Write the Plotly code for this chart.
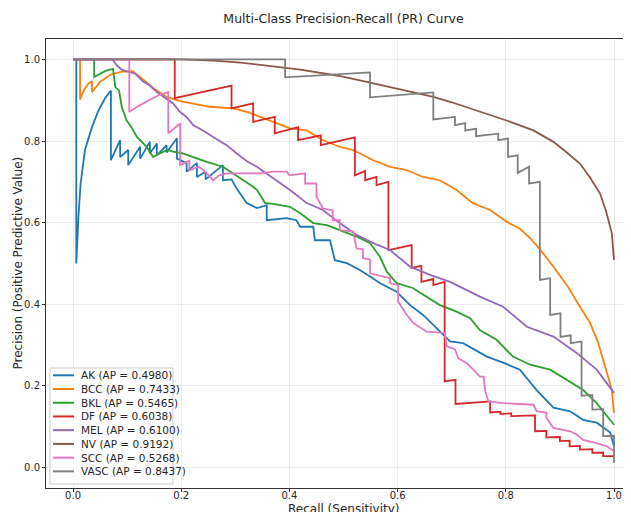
import plotly.graph_objects as go

classes = ["AK", "BCC", "BKL", "DF", "MEL", "NV", "SCC", "VASC"]
ap_scores = [0.4980, 0.7433, 0.5465, 0.6038, 0.6100, 0.9192, 0.5268, 0.8437]
colors = ["#1f77b4", "#ff7f0e", "#2ca02c", "#d62728", "#9467bd", "#8c564b", "#e377c2", "#7f7f7f"]

ak_recall = [0.000, 0.006, 0.006, 0.008, 0.010, 0.014, 0.022, 0.035, 0.047, 0.059, 0.070, 0.070, 0.087, 0.087,
             0.102, 0.102, 0.124, 0.124, 0.142, 0.142, 0.155, 0.155, 0.173, 0.173, 0.192, 0.192, 0.210, 0.210,
             0.229, 0.229, 0.245, 0.245, 0.277, 0.277, 0.293, 0.302, 0.312, 0.321, 0.340, 0.358, 0.358, 0.395,
             0.413, 0.420, 0.444, 0.447, 0.475, 0.484, 0.506, 0.530, 0.549, 0.567, 0.598, 0.623, 0.647, 0.672,
             0.697, 0.721, 0.752, 0.765, 0.795, 0.826, 0.857, 0.888, 0.919, 0.943, 0.968, 0.993, 1.000]
ak_precision = [1.000, 1.000, 0.500, 0.560, 0.615, 0.696, 0.778, 0.834, 0.875, 0.904, 0.924, 0.753, 0.802, 0.761,
                0.778, 0.741, 0.786, 0.757, 0.798, 0.770, 0.794, 0.765, 0.790, 0.772, 0.807, 0.757, 0.746, 0.725,
                0.746, 0.712, 0.725, 0.706, 0.741, 0.704, 0.706, 0.684, 0.664, 0.648, 0.636, 0.643, 0.606, 0.611,
                0.606, 0.590, 0.590, 0.557, 0.557, 0.508, 0.501, 0.484, 0.468, 0.452, 0.431, 0.398, 0.374, 0.342,
                0.309, 0.305, 0.281, 0.272, 0.257, 0.240, 0.190, 0.147, 0.138, 0.117, 0.110, 0.086, 0.052]

bcc_recall = [0.000, 0.013, 0.013, 0.020, 0.028, 0.035, 0.035, 0.050, 0.070, 0.090, 0.110, 0.124, 0.148, 0.173,
              0.200, 0.222, 0.253, 0.296, 0.323, 0.346, 0.370, 0.401, 0.432, 0.462, 0.493, 0.518, 0.555, 0.586,
              0.617, 0.647, 0.678, 0.709, 0.739, 0.771, 0.802, 0.826, 0.845, 0.863, 0.888, 0.913, 0.937, 0.956,
              0.971, 0.980, 0.989, 0.996, 1.000]
bcc_precision = [1.000, 1.000, 0.902, 0.925, 0.940, 0.947, 0.920, 0.945, 0.963, 0.970, 0.971, 0.957, 0.930, 0.908,
                 0.897, 0.892, 0.884, 0.880, 0.871, 0.859, 0.847, 0.831, 0.826, 0.802, 0.786, 0.778, 0.753, 0.737,
                 0.729, 0.712, 0.704, 0.680, 0.648, 0.631, 0.602, 0.585, 0.562, 0.535, 0.492, 0.447, 0.394, 0.354,
                 0.305, 0.264, 0.223, 0.190, 0.134]

bkl_recall = [0.000, 0.039, 0.039, 0.050, 0.060, 0.074, 0.078, 0.085, 0.090, 0.099, 0.108, 0.118, 0.124, 0.136,
              0.148, 0.160, 0.175, 0.185, 0.203, 0.222, 0.247, 0.277, 0.296, 0.314, 0.333, 0.340, 0.355, 0.370,
              0.401, 0.420, 0.444, 0.469, 0.493, 0.524, 0.549, 0.567, 0.580, 0.598, 0.628, 0.654, 0.678, 0.709,
              0.734, 0.752, 0.783, 0.813, 0.845, 0.882, 0.913, 0.943, 0.968, 0.987, 1.000]
bkl_precision = [1.000, 1.000, 0.957, 0.966, 0.972, 0.977, 0.932, 0.924, 0.884, 0.851, 0.834, 0.810, 0.802, 0.786,
                 0.761, 0.770, 0.778, 0.774, 0.770, 0.761, 0.749, 0.737, 0.721, 0.704, 0.688, 0.680, 0.648, 0.646,
                 0.639, 0.623, 0.599, 0.594, 0.582, 0.566, 0.550, 0.517, 0.480, 0.452, 0.440, 0.419, 0.398, 0.382,
                 0.366, 0.337, 0.313, 0.272, 0.252, 0.240, 0.215, 0.190, 0.158, 0.125, 0.105]

df_recall = [0.000, 0.188, 0.188, 0.220, 0.250, 0.275, 0.293, 0.293, 0.309, 0.333, 0.333, 0.373, 0.373, 0.416,
             0.416, 0.458, 0.458, 0.490, 0.521, 0.521, 0.540, 0.540, 0.561, 0.561, 0.583, 0.583, 0.626, 0.626,
             0.644, 0.644, 0.666, 0.666, 0.687, 0.687, 0.707, 0.707, 0.771, 0.771, 0.790, 0.790, 0.810, 0.810,
             0.854, 0.854, 0.875, 0.875, 0.900, 0.900, 0.918, 0.918, 0.937, 0.937, 0.960, 0.960, 0.980, 0.980,
             1.000]
df_precision = [1.000, 1.000, 0.905, 0.915, 0.924, 0.931, 0.936, 0.880, 0.885, 0.892, 0.847, 0.859, 0.819, 0.834,
                0.802, 0.814, 0.790, 0.800, 0.809, 0.716, 0.727, 0.704, 0.712, 0.692, 0.700, 0.533, 0.545, 0.489,
                0.494, 0.455, 0.462, 0.447, 0.455, 0.211, 0.215, 0.156, 0.162, 0.135, 0.137, 0.131, 0.133, 0.126,
                0.128, 0.089, 0.090, 0.074, 0.075, 0.065, 0.066, 0.052, 0.053, 0.044, 0.045, 0.036, 0.037, 0.028,
                0.028]

mel_recall = [0.000, 0.073, 0.081, 0.090, 0.099, 0.115, 0.130, 0.142, 0.155, 0.167, 0.185, 0.198, 0.210, 0.222,
              0.240, 0.259, 0.284, 0.302, 0.323, 0.340, 0.370, 0.401, 0.432, 0.462, 0.493, 0.524, 0.555, 0.586,
              0.623, 0.660, 0.697, 0.734, 0.752, 0.795, 0.839, 0.888, 0.931, 0.968, 1.000]
mel_precision = [1.000, 1.000, 0.985, 0.975, 0.971, 0.965, 0.945, 0.936, 0.920, 0.908, 0.892, 0.871, 0.859, 0.839,
                 0.826, 0.810, 0.790, 0.770, 0.749, 0.737, 0.709, 0.680, 0.648, 0.631, 0.599, 0.570, 0.550, 0.533,
                 0.492, 0.472, 0.455, 0.431, 0.419, 0.394, 0.345, 0.321, 0.281, 0.240, 0.183]

nv_recall = [0.000, 0.200, 0.260, 0.310, 0.420, 0.490, 0.543, 0.600, 0.666, 0.700, 0.765, 0.800, 0.851, 0.888,
             0.910, 0.937, 0.955, 0.974, 0.985, 0.996, 1.000]
nv_precision = [1.000, 1.000, 0.997, 0.992, 0.975, 0.960, 0.945, 0.928, 0.908, 0.895, 0.867, 0.851, 0.826, 0.798,
                0.775, 0.745, 0.712, 0.672, 0.630, 0.574, 0.509]

scc_recall = [0.000, 0.104, 0.104, 0.120, 0.140, 0.160, 0.176, 0.176, 0.198, 0.198, 0.215, 0.215, 0.232, 0.241,
              0.259, 0.270, 0.285, 0.346, 0.370, 0.395, 0.400, 0.429, 0.429, 0.450, 0.450, 0.462, 0.480, 0.480,
              0.493, 0.493, 0.518, 0.524, 0.536, 0.536, 0.549, 0.549, 0.586, 0.586, 0.601, 0.601, 0.617, 0.629,
              0.654, 0.687, 0.691, 0.706, 0.712, 0.728, 0.740, 0.752, 0.759, 0.762, 0.768, 0.795, 0.851, 0.857,
              0.875, 0.875, 0.888, 0.919, 0.931, 0.943, 0.968, 0.987, 1.000]
scc_precision = [1.000, 1.000, 0.871, 0.885, 0.900, 0.913, 0.920, 0.819, 0.843, 0.741, 0.752, 0.728, 0.737, 0.729,
                 0.704, 0.716, 0.721, 0.721, 0.725, 0.725, 0.716, 0.721, 0.696, 0.696, 0.664, 0.635, 0.630, 0.606,
                 0.606, 0.582, 0.578, 0.537, 0.535, 0.513, 0.510, 0.476, 0.464, 0.452, 0.447, 0.407, 0.374, 0.354,
                 0.333, 0.330, 0.297, 0.290, 0.268, 0.256, 0.240, 0.223, 0.223, 0.187, 0.162, 0.158, 0.154, 0.138,
                 0.135, 0.122, 0.097, 0.089, 0.081, 0.068, 0.060, 0.052, 0.040]

vasc_recall = [0.000, 0.392, 0.392, 0.549, 0.549, 0.666, 0.666, 0.706, 0.706, 0.725, 0.725, 0.745, 0.745, 0.786,
               0.786, 0.804, 0.804, 0.822, 0.822, 0.843, 0.843, 0.863, 0.863, 0.882, 0.882, 0.901, 0.901, 0.920,
               0.920, 0.940, 0.940, 0.960, 0.960, 0.980, 0.980, 1.000, 1.000]
vasc_precision = [1.000, 1.000, 0.956, 0.968, 0.907, 0.919, 0.853, 0.859, 0.839, 0.844, 0.826, 0.830, 0.812, 0.818,
                  0.802, 0.806, 0.761, 0.765, 0.722, 0.737, 0.696, 0.700, 0.460, 0.464, 0.374, 0.378, 0.320, 0.324,
                  0.305, 0.309, 0.176, 0.178, 0.142, 0.143, 0.077, 0.078, 0.012]

recalls = [ak_recall, bcc_recall, bkl_recall, df_recall, mel_recall, nv_recall, scc_recall, vasc_recall]
precisions = [ak_precision, bcc_precision, bkl_precision, df_precision, mel_precision, nv_precision,
              scc_precision, vasc_precision]

tick_vals = [0.0, 0.2, 0.4, 0.6, 0.8, 1.0]
tick_text = ["0.0", "0.2", "0.4", "0.6", "0.8", "1.0"]

FONT = "DejaVu Sans"
TXT = "#262626"

# ---- layout geometry (figure pixels; the page body adds an 8px offset) ----
W, H = 631, 512
OFF = 8
M_L, M_T, M_B = 38, 31, 32
PLOT_W = W - M_L
PLOT_H = H - M_T - M_B


def paper_x(screen_px):
    return (screen_px - OFF - M_L) / PLOT_W


def paper_y(screen_py):
    return (M_T + PLOT_H - (screen_py - OFF)) / PLOT_H


fig = go.Figure()
for name, ap, col, r, p in zip(classes, ap_scores, colors, recalls, precisions):
    fig.add_trace(go.Scatter(
        x=r, y=p, mode="lines", name=f"{name} (AP = {ap:.4f})",
        line=dict(color=col, width=1.8), showlegend=False,
    ))

axis_common = dict(
    showgrid=True, gridcolor="#ebebeb", gridwidth=1, zeroline=False,
    showline=True, linecolor="#333333", linewidth=1,
    ticks="outside", ticklen=3, tickcolor="#333333",
    tickvals=tick_vals, ticktext=tick_text, automargin=False,
    tickfont=dict(family=FONT, size=10, color=TXT),
)

# ---- legend drawn as a framed box of line samples and labels ----
shapes = []
annotations = []
box_x0, box_x1 = paper_x(50), paper_x(173)
box_y0, box_y1 = paper_y(484), paper_y(368)
shapes.append(dict(type="rect", xref="paper", yref="paper", x0=box_x0, x1=box_x1, y0=box_y0, y1=box_y1,
                   line=dict(color="#cccccc", width=1), fillcolor="rgba(255,255,255,0.85)", layer="above"))
row0, row_step = 375.3, 13.72
for i, (name, ap, col) in enumerate(zip(classes, ap_scores, colors)):
    yy = paper_y(row0 + i * row_step)
    shapes.append(dict(type="line", xref="paper", yref="paper", x0=paper_x(53), x1=paper_x(74), y0=yy, y1=yy,
                       line=dict(color=col, width=2), layer="above"))
    annotations.append(dict(text=f"{name} (AP = {ap:.4f})", xref="paper", yref="paper", x=paper_x(79), y=yy,
                            xanchor="left", yanchor="middle", showarrow=False,
                            font=dict(family=FONT, size=10.5, color=TXT)))

annotations += [
    dict(text="Recall (Sensitivity)", xref="paper", yref="paper", x=paper_x(343.5), y=paper_y(509),
         xanchor="center", yanchor="middle", showarrow=False,
         font=dict(family=FONT, size=12, color=TXT)),
    dict(text="Precision (Positive Predictive Value)", xref="paper", yref="paper", x=paper_x(17), y=0.5,
         xanchor="center", yanchor="middle", textangle=-90, showarrow=False,
         font=dict(family=FONT, size=12, color=TXT)),
]

fig.update_layout(
    width=W, height=H,
    margin=dict(l=M_L, r=0, t=M_T, b=M_B, pad=0, autoexpand=False),
    paper_bgcolor="white", plot_bgcolor="white",
    font=dict(family=FONT, color=TXT),
    title=dict(text="Multi-Class Precision-Recall (PR) Curve", x=(343.5 - OFF) / W, xanchor="center",
               y=1 - (19 - OFF) / H, yanchor="middle", font=dict(family=FONT, size=12.5, color=TXT)),
    xaxis=dict(range=[-0.05, (W - M_L - 27) / 541], mirror=True, ticklabelstandoff=-5, **axis_common),
    yaxis=dict(range=[-0.05, 1.05], **axis_common),
    showlegend=False,
    shapes=shapes,
    annotations=annotations,
)

fig.write_html("out.html")
